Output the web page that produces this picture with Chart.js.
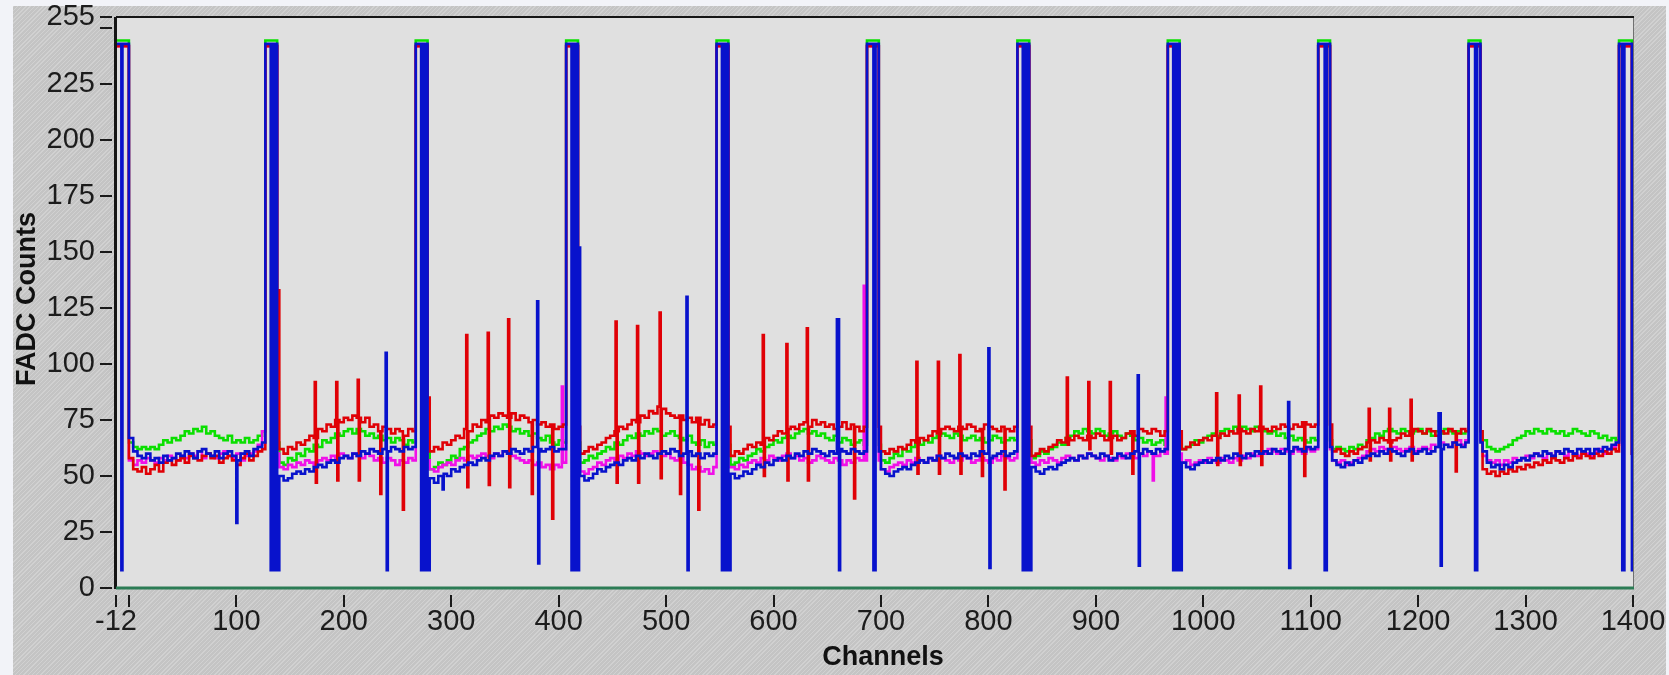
<!DOCTYPE html>
<html><head><meta charset="utf-8">
<script src="https://cdn.jsdelivr.net/npm/chart.js@4.4.1/dist/chart.umd.min.js"></script>
<style>
html,body{margin:0;padding:0;background:#f2f3f8;}
#wrap{position:absolute;left:0;top:0;width:1669px;height:675px;overflow:hidden;}
#panel{position:absolute;left:13px;top:6px;width:1653px;height:669px;background-color:#c4c4c4;
 background-image:repeating-linear-gradient(135deg, rgba(255,255,255,0.22) 0px, rgba(255,255,255,0.22) 1px, rgba(0,0,0,0) 1px, rgba(0,0,0,0) 3px);}
canvas{position:absolute;left:0;top:0;}
</style></head><body>
<div id="wrap"><div id="panel"></div><canvas id="c" width="1669" height="675"></canvas></div>
<script>
// ---- axis ticks ----
const xTickValues = [-12,0,100,200,300,400,500,600,700,800,900,1000,1100,1200,1300,1400];
const xTickLabels = ['-12','','100','200','300','400','500','600','700','800','900','1000','1100','1200','1300','1400'];
const yTickValues = [0,25,50,75,100,125,150,175,200,225,250,255];
const yTickLabels = ['0','25','50','75','100','125','150','175','200','225','','255'];
const xTitle = 'Channels';
const yTitle = 'FADC Counts';

// ---- baselines, one value per 4 channels starting at channel 0 (each row = 140 channels) ----
const greenBase = [
65,63,62,63,62,63,62,64,66,65,67,66,68,70,69,71,70,72,69,70,68,67,66,68,65,66,65,67,65,66,68,70,65,65,65,
56,55,58,57,60,59,62,61,64,63,66,65,67,69,68,70,71,69,71,70,68,69,67,68,66,67,65,67,66,64,66,65,65,65,65,
53,54,56,55,57,59,58,62,63,65,66,68,69,71,70,72,71,73,72,70,71,69,70,68,69,67,66,68,65,64,66,65,65,65,65,
56,57,59,58,60,61,63,62,65,64,66,68,67,69,68,70,69,71,70,68,69,70,68,67,66,68,65,64,66,63,65,64,64,64,64,
55,56,58,57,59,60,62,61,63,64,66,65,67,68,67,69,70,71,69,70,68,69,67,66,68,65,67,66,64,65,66,64,64,64,64,
57,56,58,60,59,62,61,63,65,64,66,65,67,68,69,68,67,69,68,66,67,68,66,67,65,66,68,67,65,66,67,66,66,66,66,
58,59,61,60,62,63,65,64,67,68,70,69,71,70,69,71,70,68,69,70,68,67,69,68,66,67,65,66,64,65,66,64,64,64,64,
62,63,64,66,65,67,68,69,68,70,71,70,72,71,72,71,70,72,71,70,69,70,68,69,67,68,66,67,66,65,67,66,66,66,66,
62,63,62,61,63,62,64,63,66,67,69,68,70,71,70,69,71,70,69,70,71,69,70,68,70,69,71,70,69,70,69,70,70,70,70,
66,63,62,61,62,63,64,66,67,68,70,69,71,70,69,71,70,69,70,68,69,71,70,69,68,70,69,67,68,66,67,66,66,66,66];
const redBase = [
58,53,52,54,51,53,55,52,56,57,55,57,58,56,59,58,57,59,60,58,59,56,58,59,57,55,58,60,57,59,61,62,60,60,60,
62,60,63,62,65,64,66,68,67,71,70,73,72,75,74,76,75,77,76,74,76,72,73,70,72,71,69,71,70,68,71,70,70,70,70,
61,63,62,65,64,66,68,67,71,70,73,72,75,74,77,76,78,77,76,78,75,77,76,74,75,73,74,72,73,71,72,73,72,72,72,
60,61,63,62,64,65,67,68,70,72,71,73,75,74,77,76,79,78,81,80,78,77,76,77,75,76,74,76,73,75,72,73,72,72,72,
59,61,60,62,64,63,65,64,67,66,68,70,69,71,72,71,73,74,72,75,73,74,72,73,71,72,74,71,73,72,70,72,72,72,72,
61,60,62,61,63,62,64,66,65,67,66,68,70,69,71,72,71,70,72,71,73,72,70,71,73,72,71,70,72,71,70,72,72,72,72,
59,60,62,61,63,64,66,65,67,66,68,67,66,68,67,69,68,66,67,68,66,67,69,70,68,71,70,69,71,70,68,70,70,70,70,
62,63,65,64,66,67,66,68,67,69,68,70,69,71,70,69,71,70,72,71,70,72,71,73,72,71,73,72,74,73,72,73,73,73,73,
61,62,60,59,61,60,62,63,65,66,65,67,66,65,66,67,69,68,70,71,70,69,71,70,68,70,69,71,70,69,71,70,70,70,70,
53,51,52,50,52,51,53,52,54,53,55,54,56,55,57,56,58,57,56,58,57,59,58,60,59,58,60,59,61,60,62,61,61,61,61];
const magentaBase = [
57,55,57,56,58,57,56,58,57,59,58,57,59,58,60,59,61,58,60,59,58,60,61,59,58,60,57,59,60,61,64,70,60,60,60,
54,53,55,54,56,55,57,56,55,57,58,57,59,58,60,59,58,60,59,58,60,59,57,58,56,58,57,55,57,56,58,57,57,57,57,
53,52,54,55,56,55,57,58,57,59,58,59,60,59,58,60,59,61,60,59,58,57,56,57,55,56,54,55,53,55,54,56,56,56,56,
52,51,53,54,56,55,57,58,57,59,58,60,59,61,60,59,60,61,60,59,60,58,57,58,56,55,53,54,52,53,51,54,54,54,54,
54,53,55,54,56,57,56,58,57,59,58,57,59,60,58,59,57,58,56,57,59,58,57,56,58,57,55,57,56,58,57,57,57,57,57,
53,52,54,55,56,55,57,56,58,57,56,58,57,59,58,57,56,58,57,59,58,56,57,58,57,56,58,57,59,58,57,58,58,58,58,
56,55,57,56,58,57,56,58,59,58,57,59,58,60,59,58,57,59,58,57,59,58,60,59,58,60,59,61,60,59,61,60,60,60,60,
56,57,55,56,57,56,58,57,56,58,57,56,58,57,59,58,60,59,61,60,62,61,60,62,61,60,62,61,60,62,61,62,62,62,62,
57,56,57,55,56,57,58,59,61,62,61,63,62,61,63,62,61,62,63,61,62,63,62,64,63,65,64,63,65,66,64,66,66,66,66,
59,57,56,57,55,57,56,58,57,58,59,58,60,59,58,60,59,61,60,59,61,60,59,61,60,59,61,62,60,62,63,64,64,64,64];
const blueBase = [
67,61,59,58,60,57,58,56,59,57,58,60,59,61,60,58,61,62,60,59,61,58,60,61,59,57,60,61,59,62,63,65,60,60,60,
50,48,49,51,52,51,53,52,54,55,54,56,57,56,58,59,58,60,59,61,60,62,61,60,62,61,63,62,61,63,62,63,62,62,62,
49,47,50,51,50,53,52,54,55,56,55,57,58,57,59,60,59,61,60,62,61,60,62,61,63,62,61,62,63,61,62,62,62,62,62,
50,48,49,51,53,52,54,55,56,55,57,58,57,59,58,60,59,58,60,61,60,62,61,59,60,61,59,60,58,60,59,60,60,60,60,
51,49,50,52,51,53,55,54,56,55,57,58,57,59,58,60,59,61,60,62,61,60,59,61,60,62,61,60,62,61,60,61,61,61,61,
53,51,50,52,53,54,53,55,56,57,56,58,57,59,58,60,59,58,60,59,58,60,59,61,60,58,59,60,61,59,60,61,61,61,61,
54,52,51,53,54,53,55,56,57,58,57,59,58,60,59,58,60,59,57,58,60,59,58,60,61,60,62,61,60,62,61,62,62,62,62,
56,54,53,55,56,57,56,57,58,57,59,58,60,59,58,60,59,61,60,61,60,62,61,60,62,61,63,62,61,63,62,63,63,63,63,
57,55,54,56,55,57,56,58,59,60,59,61,60,62,61,60,59,61,62,60,61,62,60,61,63,62,64,63,65,64,63,65,65,65,65,
61,56,54,55,53,55,54,56,57,58,57,59,60,59,61,60,59,61,60,62,61,60,62,61,62,60,62,61,63,62,64,65,65,65,65];

// ---- saturation bursts (start channel, shape kind) ----
const burstStarts = [127,267,407,547,687,827,967,1107,1247];
const burstKinds  = ['thick','thick','thick','thick','thin','thick','thick','thin','thin'];
const blueThick    = [243,243,243,243,243,8,243,8,243,8,243,8,8];
const greenThick   = [244.5,244.5,244.5,244.5,244.5,244.5,244.5,244.5,244.5,244.5,244.5];
const redThick     = [242,242,242,242,242,242,242,242,242,242,242];
const magentaThick = [242,242,242,242,242,242,242,242,242,242,242];
const blueThin     = [243,243,243,243,243,243,8,8,243,243,243];
const greenThin    = [244.5,244.5,244.5,244.5,244.5,244.5,244.5,244.5,244.5,244.5,244.5];
const redThin      = [242,242,242,242,242,242,242,242,242,242,242];
const magentaThin  = [242,242,242,242,242,242,242,242,242,242,242];

// ---- single-channel events: [first channel, value, value, ...] ----
const bluePatches = [
 [-12,243,243,243,243,243,8,243,243,243,243,243,243],
 [100,29],[239,105,8],[292,44],[380,128,11],[419,152],[519,130,8],[659,120,120,8],
 [800,107,9],[939,95,10],[1079,83,9],[1219,78,78,10],
 [1387,243,243,243,8,8,243,243,243,243,243,243,243,8,8]];
const greenPatches = [
 [-12,244.5,244.5,244.5,244.5,244.5,244.5,244.5,244.5,244.5,244.5,244.5,244.5],
 [1387,244.5,244.5,244.5,244.5,244.5,244.5,244.5,244.5,244.5,244.5,244.5,244.5,60,60]];
const redPatches = [
 [-12,242,242,242,242,242,242,242,242,242,242,242,242],
 [138,133,133],[278,85,85],
 [173,92,47],[193,92,48],[213,93,48],[234,42],[255,35],
 [314,113,45],[334,114,46],[353,120,45],[375,42],[394,31],
 [453,119,47],[473,117,47],[494,123,49],[513,42],[530,35],
 [590,113,50],[612,109,48],[631,116,48],[675,40],
 [733,101,51],[753,101,51],[773,104,51],[794,50],[815,44],
 [873,94,64],[893,92,62],[913,92,60],[934,51],
 [1012,87,55],[1033,86,55],[1053,90,55],[1094,50],
 [1154,80,57],[1173,80,57],[1193,84,57],[1235,52],
 [1387,242,242,242,242,242,242,242,242,242,242,242,242,60,60]];
const magentaPatches = [
 [-12,242,242,242,242,242,242,242,242,242,242,242,242],
 [403,90],[684,135],[953,48],[965,85],
 [1387,242,242,242,242,242,242,242,242,242,242,242,242,60,60]];

function buildSeries(base, thick, thin, patches) {
  const vals = new Map();
  for (let c = -12; c <= 1400; c++) {
    const i = Math.min(base.length - 1, Math.max(0, Math.floor(c / 4)));
    vals.set(c, base[i]);
  }
  burstStarts.forEach((s, b) => {
    const shape = burstKinds[b] === 'thick' ? thick : thin;
    shape.forEach((v, k) => vals.set(s + k, v));
  });
  patches.forEach(p => { for (let k = 1; k < p.length; k++) vals.set(p[0] + k - 1, p[k]); });
  const out = [];
  for (let c = -12; c <= 1400; c++) out.push({x: c, y: vals.get(c)});
  return out;
}

const blueData = buildSeries(blueBase, blueThick, blueThin, bluePatches);
const redData = buildSeries(redBase, redThick, redThin, redPatches);
const magentaData = buildSeries(magentaBase, magentaThick, magentaThin, magentaPatches);
const greenData = buildSeries(greenBase, greenThick, greenThin, greenPatches);

const tickFont = {family: "'Liberation Sans Narrow', 'Liberation Sans', Arial, sans-serif", size: 29};
const titleFont = "bold 27px 'Liberation Sans', Arial, sans-serif";

const decor = {
  id: 'decor',
  beforeDatasetsDraw(chart) {
    const {ctx, chartArea: a} = chart;
    ctx.save();
    ctx.fillStyle = '#e0e0e0';
    ctx.fillRect(a.left, a.top, a.right - a.left, a.bottom - a.top);
    ctx.restore();
  },
  afterDraw(chart) {
    const {ctx, chartArea: a, scales} = chart;
    ctx.save();
    // frame
    ctx.lineWidth = 1; ctx.strokeStyle = '#707070';
    ctx.beginPath(); ctx.moveTo(a.right + 0.5, a.top); ctx.lineTo(a.right + 0.5, a.bottom); ctx.stroke();
    ctx.lineWidth = 2; ctx.strokeStyle = '#151515';
    ctx.beginPath(); ctx.moveTo(a.left, a.top); ctx.lineTo(a.right + 1, a.top); ctx.stroke();
    ctx.lineWidth = 3;
    ctx.beginPath(); ctx.moveTo(a.left - 0.5, a.top); ctx.lineTo(a.left - 0.5, a.bottom + 1); ctx.stroke();
    ctx.strokeStyle = '#2c7c55'; ctx.lineWidth = 3;
    ctx.beginPath(); ctx.moveTo(a.left, a.bottom); ctx.lineTo(a.right + 1, a.bottom); ctx.stroke();
    // tick marks
    ctx.strokeStyle = '#1a1a1a'; ctx.lineWidth = 2;
    xTickValues.forEach(v => {
      const px = Math.round(scales.x.getPixelForValue(v));
      ctx.beginPath(); ctx.moveTo(px, a.bottom + 7); ctx.lineTo(px, a.bottom + 19); ctx.stroke();
    });
    yTickValues.forEach(v => {
      const py = Math.round(scales.y.getPixelForValue(v));
      ctx.beginPath(); ctx.moveTo(a.left - 16, py); ctx.lineTo(a.left - 4, py); ctx.stroke();
    });
    // titles
    ctx.fillStyle = '#111';
    ctx.font = titleFont;
    ctx.textAlign = 'center'; ctx.textBaseline = 'middle';
    ctx.fillText(xTitle, 883, 658);
    ctx.translate(28, 299); ctx.rotate(-Math.PI / 2);
    ctx.fillText(yTitle, 0, 0);
    ctx.restore();
  }
};

new Chart(document.getElementById('c'), {
  type: 'line',
  data: {datasets: [
    {label: 'Blue', data: blueData, borderColor: '#0812cc', order: 0},
    {label: 'Red', data: redData, borderColor: '#e00006', order: 1},
    {label: 'Magenta', data: magentaData, borderColor: '#f010e8', order: 2},
    {label: 'Green', data: greenData, borderColor: '#0ae000', order: 3}
  ]},
  options: {
    responsive: false, animation: false, devicePixelRatio: 1,
    parsing: false, normalized: true,
    layout: {padding: {left: 0, top: 17, right: 36, bottom: 0}},
    plugins: {legend: {display: false}, tooltip: {enabled: false}},
    elements: {point: {radius: 0}, line: {borderWidth: 2.6, stepped: 'before', tension: 0, fill: false}},
    scales: {
      x: {type: 'linear', min: -12, max: 1400,
        afterBuildTicks: s => { s.ticks = xTickValues.map(v => ({value: v})); },
        afterFit: s => { s.height = 87; s.paddingLeft = 0; s.paddingRight = 0; },
        grid: {display: false, drawTicks: false}, border: {display: false},
        ticks: {autoSkip: false, maxRotation: 0, minRotation: 0, padding: 17, font: tickFont, color: '#1c1c1c',
          callback: (v, i) => xTickLabels[i]}},
      y: {type: 'linear', min: 0, max: 255,
        afterBuildTicks: s => { s.ticks = yTickValues.map(v => ({value: v})); },
        afterFit: s => { s.width = 116; s.paddingTop = 0; s.paddingBottom = 0; },
        grid: {display: false, drawTicks: false}, border: {display: false},
        ticks: {autoSkip: false, padding: 21, font: tickFont, color: '#1c1c1c',
          callback: (v, i) => yTickLabels[i]}}
    }
  },
  plugins: [decor]
});
</script>
</body></html>
